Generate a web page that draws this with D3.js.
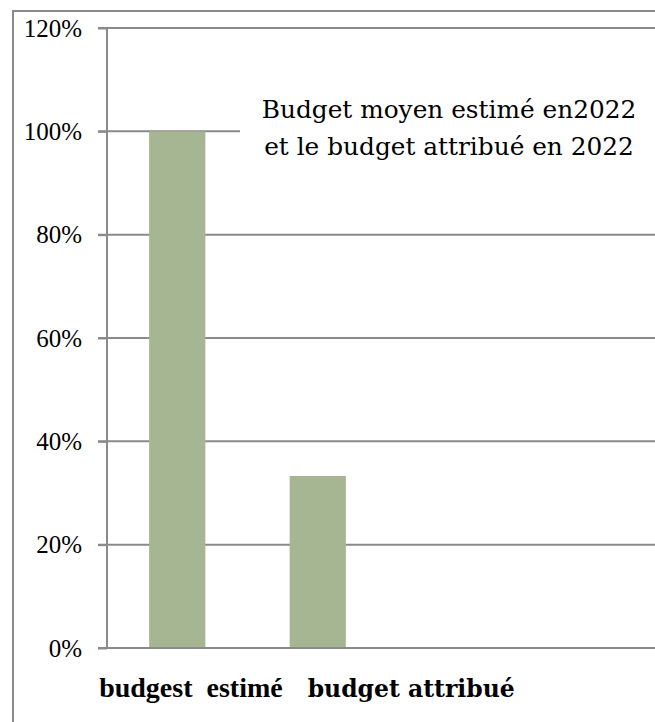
<!DOCTYPE html>
<html>
<head>
<meta charset="utf-8">
<script src="https://cdn.jsdelivr.net/npm/d3@7"></script>
<style>
  html, body { margin: 0; padding: 0; background: #fff; }
  svg { display: block; }
</style>
</head>
<body>
<svg id="chart" width="655" height="722"></svg>
<script>
// ---- data ----
const categories = ["budgest  estimé", "budget attribué"];
const values = [100, 33.3];
const yTicks = [0, 20, 40, 60, 80, 100, 120];
const titleLines = ["Budget moyen estimé en2022", "et le budget attribué en 2022"];

// ---- layout ----
const svg = d3.select("#chart");
const plotLeft = 107, plotRight = 655, plotTop = 28, plotBottom = 648;
const gridColor = "#8a8a8a";

const y = d3.scaleLinear().domain([0, 120]).range([plotBottom, plotTop]);
const x = d3.scaleBand().domain(categories)
  .range([plotLeft, plotLeft + 2 * 140.5])
  .paddingInner(0.6).paddingOuter(0.3);

// outer frame
svg.append("rect")
  .attr("x", 13).attr("y", 11).attr("width", 700).attr("height", 800)
  .attr("fill", "none").attr("stroke", gridColor).attr("stroke-width", 2);

// gridlines
svg.append("g").selectAll("line")
  .data(yTicks.filter(d => d > 0))
  .join("line")
  .attr("x1", 98).attr("x2", plotRight)
  .attr("y1", d => y(d)).attr("y2", d => y(d))
  .attr("stroke", gridColor).attr("stroke-width", 2);

// y axis via d3.axisLeft
const yAxis = d3.axisLeft(y).tickValues(yTicks).tickSize(9).tickPadding(16)
  .tickFormat(d => d + "%");
const gy = svg.append("g").attr("transform", `translate(${plotLeft},0)`).call(yAxis);
gy.select(".domain").attr("stroke", gridColor).attr("stroke-width", 2)
  .attr("d", `M0,${plotTop}V${plotBottom}`);
gy.selectAll(".tick line").attr("stroke", gridColor).attr("stroke-width", 2);
gy.selectAll(".tick text")
  .attr("font-family", "'Liberation Serif', serif")
  .attr("font-size", 25).attr("fill", "#000")
  .attr("dy", null).attr("y", 8);

// bars
svg.append("g").selectAll("rect")
  .data(values)
  .join("rect")
  .attr("x", (d, i) => x(categories[i]))
  .attr("width", x.bandwidth())
  .attr("y", d => y(d))
  .attr("height", d => y(0) - y(d))
  .attr("fill", "#a6b592");

// baseline and axis line over bars
svg.append("line")
  .attr("x1", 98).attr("x2", plotRight)
  .attr("y1", y(0)).attr("y2", y(0))
  .attr("stroke", gridColor).attr("stroke-width", 2);
svg.append("line")
  .attr("x1", plotLeft).attr("x2", plotLeft)
  .attr("y1", plotTop).attr("y2", plotBottom)
  .attr("stroke", gridColor).attr("stroke-width", 2);

// title box (white background)
svg.append("rect")
  .attr("x", 240).attr("y", 72).attr("width", 420).attr("height", 105)
  .attr("fill", "#fff");
svg.append("g").selectAll("text")
  .data(titleLines)
  .join("text")
  .attr("x", 449)
  .attr("y", (d, i) => 118 + i * 37)
  .attr("text-anchor", "middle")
  .attr("font-family", "'DejaVu Serif', serif")
  .attr("font-size", 24.8)
  .attr("fill", "#000")
  .text(d => d);

// category labels
const labelFonts = ["'Liberation Serif', serif", "'DejaVu Serif', serif"];
const labelSizes = [28, 23.5];
const labelOffsets = [-50, 18];
svg.append("g").selectAll("text")
  .data(categories)
  .join("text")
  .attr("x", (d, i) => x(d) + labelOffsets[i])
  .attr("y", 697)
  .attr("font-family", (d, i) => labelFonts[i])
  .attr("font-size", (d, i) => labelSizes[i])
  .attr("font-weight", "bold")
  .attr("fill", "#000")
  .style("white-space", "pre")
  .text(d => d);
</script>
</body>
</html>
